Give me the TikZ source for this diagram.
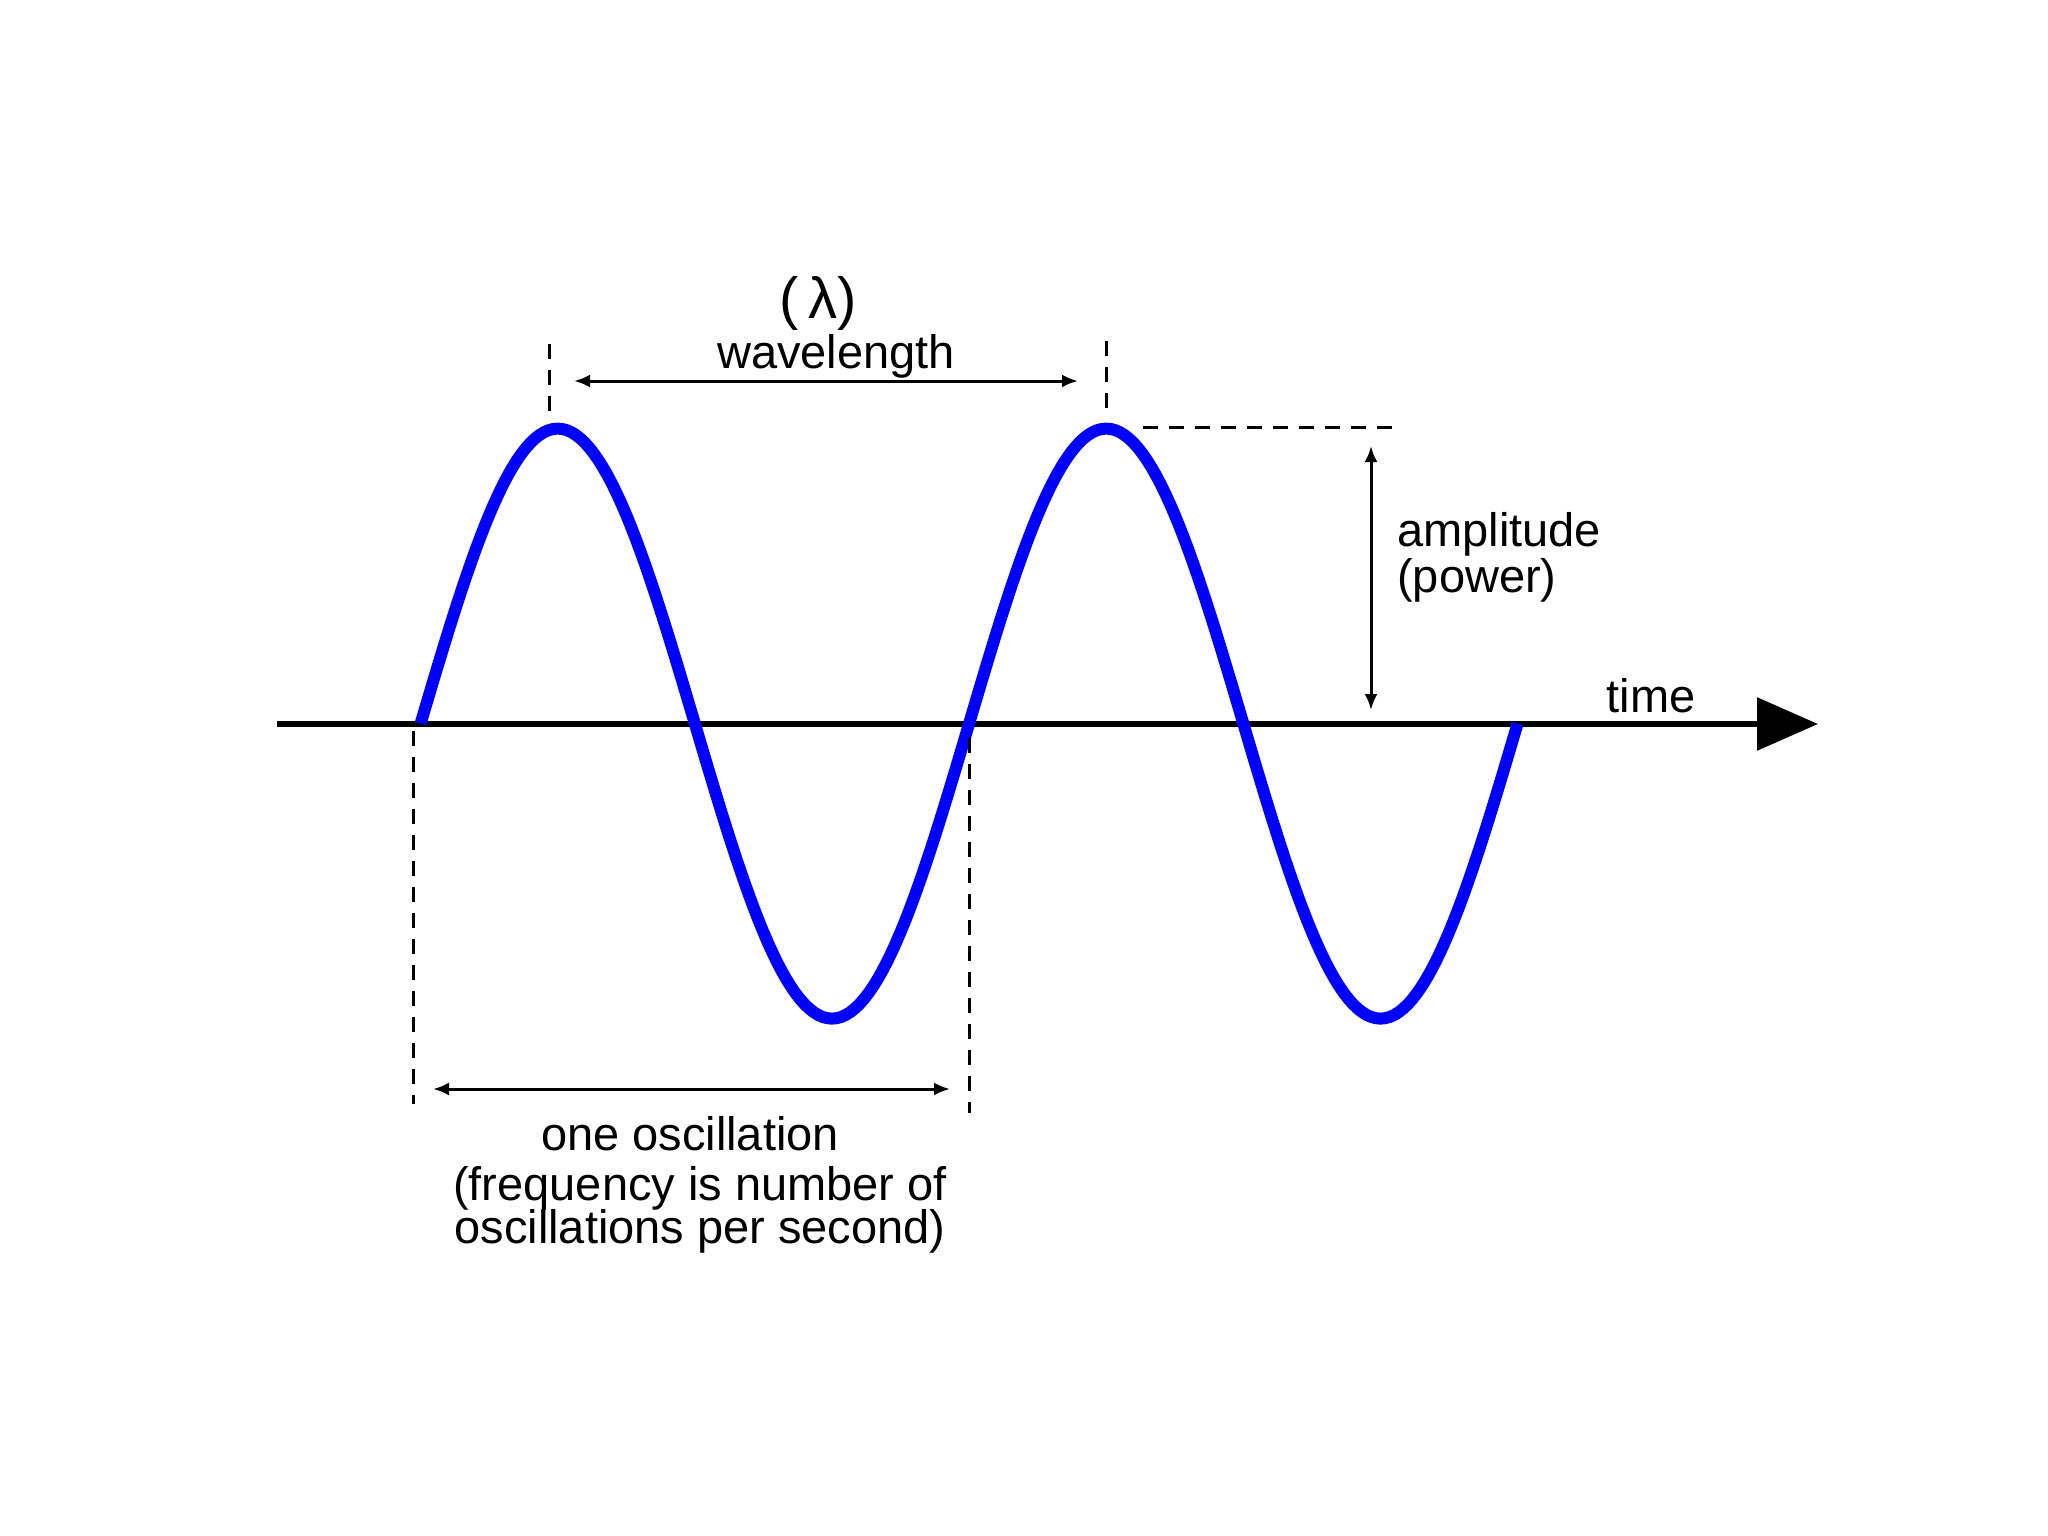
\documentclass[tikz,border=0pt]{standalone}
\usepackage{fontspec}
\setmainfont{Liberation Sans}
\usetikzlibrary{arrows.meta}
\begin{document}
\begin{tikzpicture}[x=1pt,y=-1pt,
  lbl/.style={font=\fontsize{47}{58}\selectfont, inner sep=0pt, align=center},
  dim/.style={line width=3pt, {Latex[length=16pt,width=13pt]}-{Latex[length=16pt,width=13pt]}},
  guide/.style={line width=3pt, dash pattern=on 15pt off 11pt},
  wave/.style={blue, line width=12pt, line join=round},
  axis/.style={line width=6pt, -{Triangle[length=61pt,width=52pt]}}]
\useasboundingbox[fill=white] (0,0) rectangle (2048,1536);
% axis
\coordinate (ax0) at (277,724);
\coordinate (ax1) at (1818,724);
\draw[axis] (ax0) -- (ax1);
\node[lbl, anchor=base] (time) at (1651,712) {time};
% sine wave
\draw[wave] plot[domain=0:720, samples=241] ({420.6 + \x/360*548.5}, {723.6 - 295*sin(\x)});
% wavelength
\coordinate (wl0) at (549,344);
\coordinate (wl0b) at (549,422);
\coordinate (wl1) at (1106,341);
\coordinate (wl1b) at (1106,419);
\draw[guide] (wl0) -- (wl0b);
\draw[guide] (wl1) -- (wl1b);
\coordinate (wa0) at (574,381);
\coordinate (wa1) at (1078,381);
\draw[dim] (wa0) -- (wa1);
\node[lbl, anchor=base] (wavelength) at (836,368) {wavelength};
\node[lbl, anchor=base, font=\fontsize{58}{60}\selectfont] (lambda) at (818,318) {(\,λ)};
% amplitude
\coordinate (am0) at (1143,427);
\coordinate (am1) at (1402,427);
\draw[guide] (am0) -- (am1);
\coordinate (aa0) at (1371,446);
\coordinate (aa1) at (1371,710);
\draw[dim] (aa0) -- (aa1);
\node[lbl, anchor=base west] (amp) at (1397,546) {amplitude};
\node[lbl, anchor=base west] (power) at (1397,592) {(power)};
% oscillation
\coordinate (os0) at (413,731);
\coordinate (os0b) at (413,1104);
\coordinate (os1) at (969,738);
\coordinate (os1b) at (969,1113);
\draw[guide] (os0) -- (os0b);
\draw[guide] (os1) -- (os1b);
\coordinate (oa0) at (433,1089);
\coordinate (oa1) at (950,1089);
\draw[dim] (oa0) -- (oa1);
\node[lbl, anchor=base] (osc) at (690,1150) {one oscillation};
\node[lbl, anchor=base] (freq1) at (700,1200) {(frequency is number of};
\node[lbl, anchor=base] (freq2) at (700,1243) {oscillations per second)};
\end{tikzpicture}
\end{document}
